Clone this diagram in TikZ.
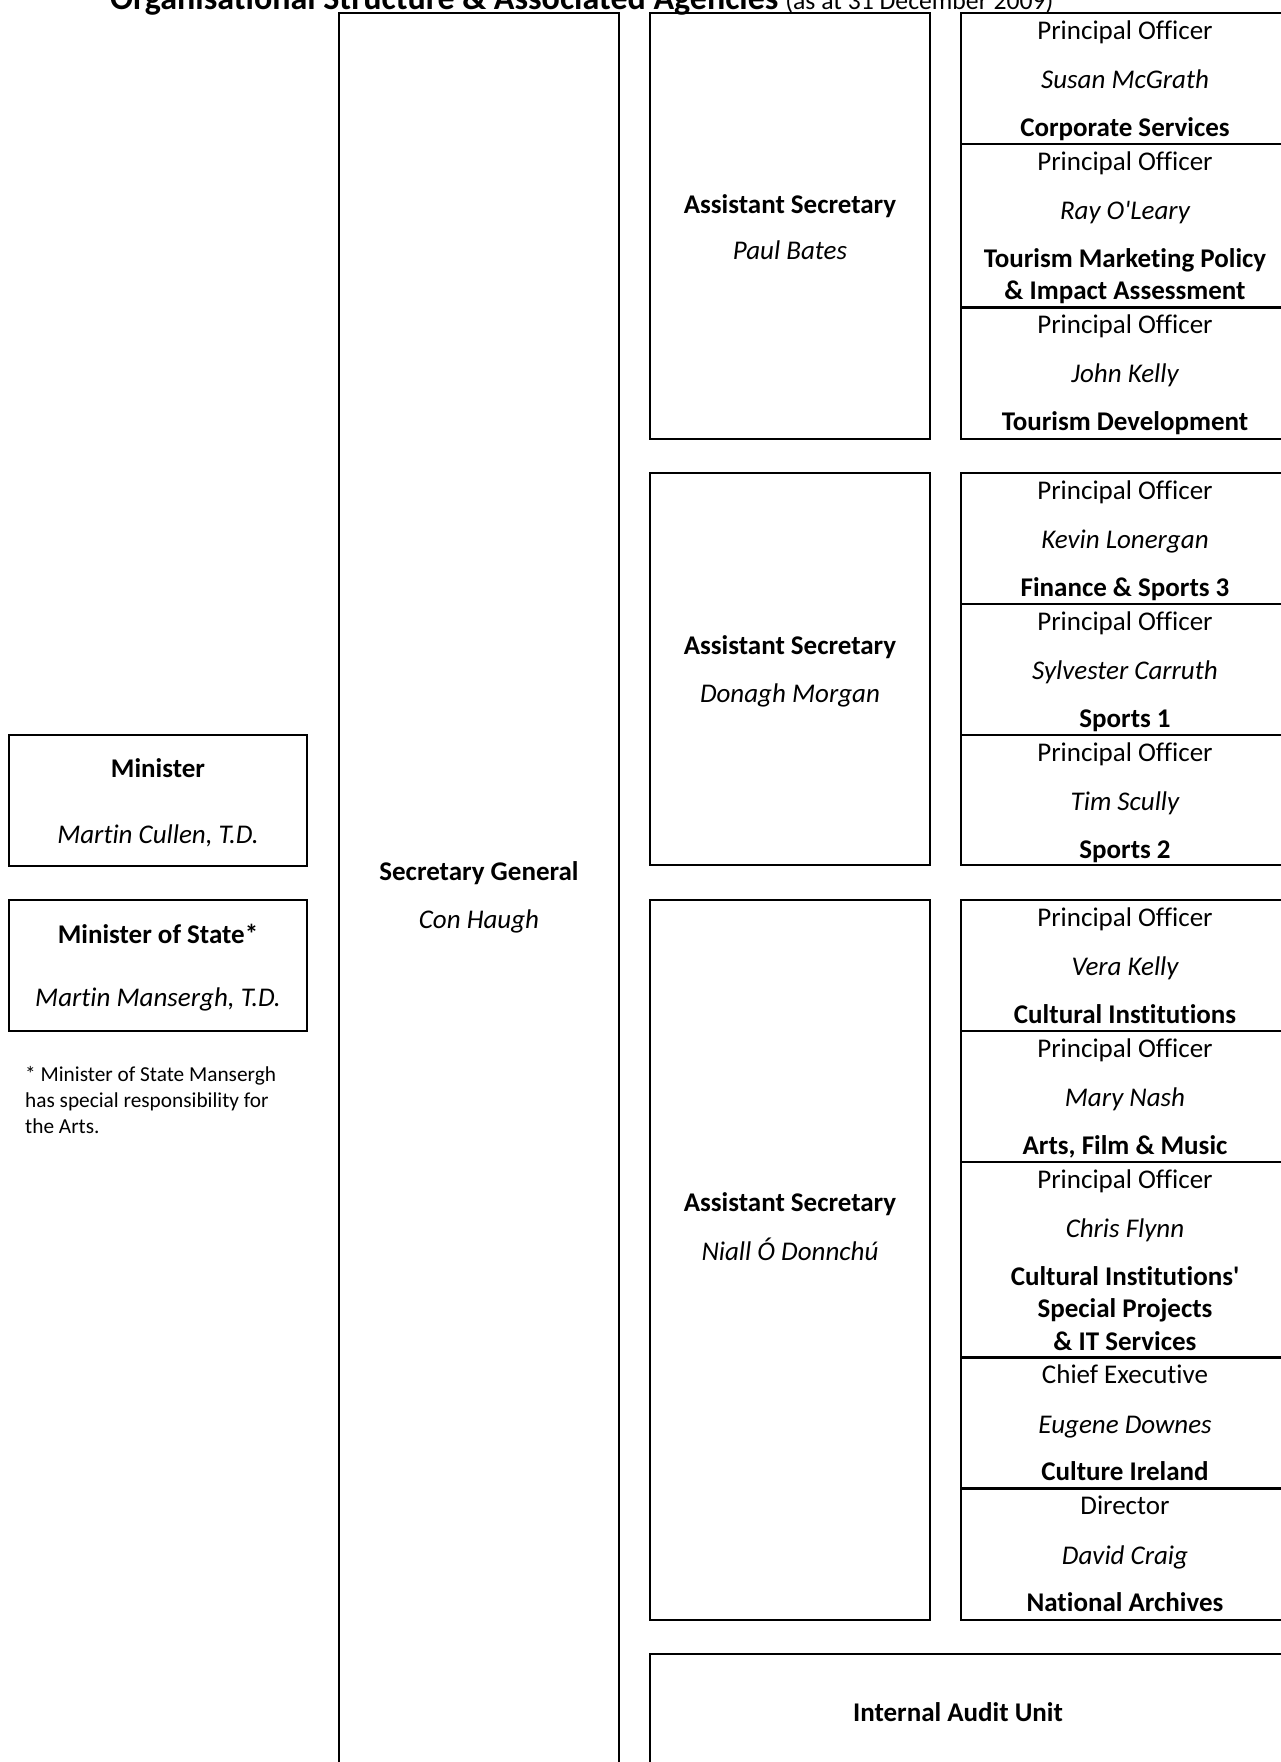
\documentclass[tikz,border=0pt]{standalone}
\usepackage{fontspec}
\setmainfont{Carlito}[Ligatures={TeXOff,CommonOff}]
\begin{document}
\begin{tikzpicture}[x=1pt,y=-1pt,
  box/.style={draw, line width=2.4pt, inner sep=0pt, outer sep=0pt, anchor=north west},
  txt/.style={anchor=base, inner sep=0pt, font=\fontsize{27}{32}\selectfont},
  bt/.style={anchor=base, inner sep=0pt, font=\fontsize{27}{32}\selectfont\bfseries},
  itx/.style={anchor=base, inner sep=0pt, font=\fontsize{27}{32}\selectfont\itshape},
  notet/.style={anchor=base west, inner sep=0pt, font=\fontsize{21.3}{26}\selectfont}]
\clip (0,0) rectangle (1281,1762);
\fill[white] (0,0) rectangle (1281,1762);

% title
\node[anchor=base west, inner sep=0pt] (title) at (110,9.5)
  {{\fontsize{34}{40}\selectfont\bfseries Organisational Structure \& Associated Agencies}\hspace{7pt}{\fontsize{25.7}{30}\selectfont(as at 31 December 2009)}};

% Minister boxes
\node[box, minimum width=298pt, minimum height=131pt] (min) at (9,735) {};
\node[bt] (mint) at (158,777.5) {Minister};
\node[itx] (minn) at (158,843.5) {Martin Cullen, T.D.};
\node[box, minimum width=298pt, minimum height=131pt] (mos) at (9,900) {};
\node[bt] (most) at (158,943.5) {Minister of State*};
\node[itx] (mosn) at (158,1006.5) {Martin Mansergh, T.D.};
\node[notet] (note1) at (25,1081) {* Minister of State Mansergh};
\node[notet] (note2) at (25,1107.3) {has special responsibility for};
\node[notet] (note3) at (25,1133.6) {the Arts.};

% Secretary General
\node[box, minimum width=280pt, minimum height=1800pt] (sg) at (339,13) {};
\node[bt] (sgt) at (479,880.5) {Secretary General};
\node[itx] (sgn) at (479,928.5) {Con Haugh};

% Assistant Secretaries
\node[box, minimum width=280pt, minimum height=425.7pt] (as1) at (650,13) {};
\node[bt] (as1t) at (790,213) {Assistant Secretary};
\node[itx] (as1n) at (790,259) {Paul Bates};
\node[box, minimum width=280pt, minimum height=392pt] (as2) at (650,473) {};
\node[bt] (as2t) at (790,654.5) {Assistant Secretary};
\node[itx] (as2n) at (790,702.5) {Donagh Morgan};
\node[box, minimum width=280pt, minimum height=720pt] (as3) at (650,900) {};
\node[bt] (as3t) at (790,1211.5) {Assistant Secretary};
\node[itx] (as3n) at (790,1260.5) {Niall Ó Donnchú};

% Internal Audit
\node[box, minimum width=660pt, minimum height=200pt] (iau) at (650,1654) {};
\node[bt] (iaut) at (958,1721) {Internal Audit Unit};

% Principal officer rows
\node[box, minimum width=330pt, minimum height=131pt] (r11) at (961,13) {};
\node[txt] at (1125,39) {Principal Officer};
\node[itx] at (1125,88.5) {Susan McGrath};
\node[bt] at (1125,136) {Corporate Services};

\node[box, minimum width=330pt, minimum height=163.3pt] (r12) at (961,144) {};
\node[txt] at (1125,170) {Principal Officer};
\node[itx] at (1125,219.5) {Ray O'Leary};
\node[bt] at (1125,267) {Tourism Marketing Policy};
\node[bt] at (1125,299.5) {\& Impact Assessment};

\node[box, minimum width=330pt, minimum height=131.4pt] (r13) at (961,307.3) {};
\node[txt] at (1125,333.3) {Principal Officer};
\node[itx] at (1125,382.8) {John Kelly};
\node[bt] at (1125,430.5) {Tourism Development};

\node[box, minimum width=330pt, minimum height=131pt] (r21) at (961,473) {};
\node[txt] at (1125,499) {Principal Officer};
\node[itx] at (1125,548.5) {Kevin Lonergan};
\node[bt] at (1125,596) {Finance \& Sports 3};

\node[box, minimum width=330pt, minimum height=131pt] (r22) at (961,604) {};
\node[txt] at (1125,630) {Principal Officer};
\node[itx] at (1125,679.5) {Sylvester Carruth};
\node[bt] at (1125,727) {Sports 1};

\node[box, minimum width=330pt, minimum height=130pt] (r23) at (961,735) {};
\node[txt] at (1125,761) {Principal Officer};
\node[itx] at (1125,810.5) {Tim Scully};
\node[bt] at (1125,858) {Sports 2};

\node[box, minimum width=330pt, minimum height=131pt] (r31) at (961,900) {};
\node[txt] at (1125,926) {Principal Officer};
\node[itx] at (1125,975.5) {Vera Kelly};
\node[bt] at (1125,1023) {Cultural Institutions};

\node[box, minimum width=330pt, minimum height=131pt] (r32) at (961,1031) {};
\node[txt] at (1125,1057) {Principal Officer};
\node[itx] at (1125,1106.5) {Mary Nash};
\node[bt] at (1125,1154) {Arts, Film \& Music};

\node[box, minimum width=330pt, minimum height=195.5pt] (r33) at (961,1162) {};
\node[txt] at (1125,1188) {Principal Officer};
\node[itx] at (1125,1237.5) {Chris Flynn};
\node[bt] at (1125,1285) {Cultural Institutions'};
\node[bt] at (1125,1317.5) {Special Projects};
\node[bt] at (1125,1350) {\& IT Services};

\node[box, minimum width=330pt, minimum height=131pt] (r34) at (961,1357.5) {};
\node[txt] at (1125,1383.5) {Chief Executive};
\node[itx] at (1125,1433) {Eugene Downes};
\node[bt] at (1125,1480.5) {Culture Ireland};

\node[box, minimum width=330pt, minimum height=131.5pt] (r35) at (961,1488.5) {};
\node[txt] at (1125,1514.5) {Director};
\node[itx] at (1125,1564) {David Craig};
\node[bt] at (1125,1611.5) {National Archives};
\end{tikzpicture}
\end{document}
